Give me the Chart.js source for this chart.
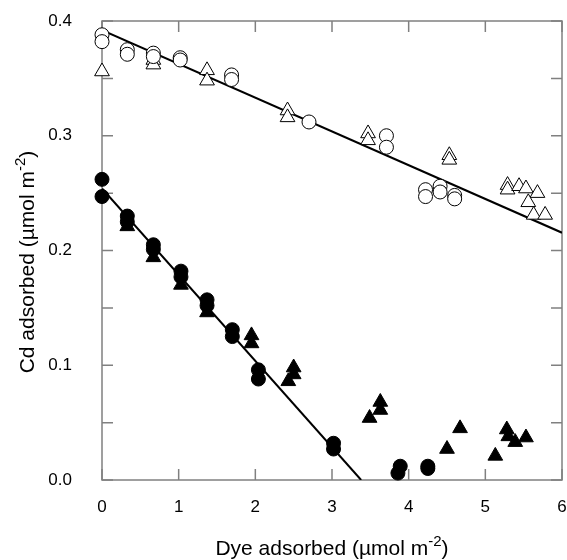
<!DOCTYPE html>
<html>
<head>
<meta charset="utf-8">
<script src="https://cdn.jsdelivr.net/npm/chart.js@4.4.1/dist/chart.umd.min.js"></script>
<style>
    html, body { margin: 0; padding: 0; background: #fff; overflow: hidden; }
    canvas { display: block; }
</style>
</head>
<body>
<canvas id="cdChart" width="567" height="560"></canvas>
<script>
// Cd adsorbed vs dye adsorbed, open symbols = one set, filled = the other
const openCircleX = [0, 0, 0.33, 0.33, 0.67, 0.67, 1.02, 1.02, 1.69, 1.69, 2.7, 3.71, 3.71, 4.22, 4.22, 4.41, 4.41, 4.6, 4.6];
const openCircleY = [0.388, 0.382, 0.375, 0.371, 0.372, 0.369, 0.368, 0.366, 0.353, 0.349, 0.312, 0.300, 0.290, 0.253, 0.247, 0.256, 0.251, 0.248, 0.245];

const openTriX = [0, 0.67, 0.67, 1.37, 1.37, 2.42, 2.42, 3.47, 3.47, 4.53, 4.53, 5.29, 5.29, 5.44, 5.53, 5.68, 5.56, 5.63, 5.78];
const openTriY = [0.356, 0.366, 0.362, 0.357, 0.348, 0.322, 0.316, 0.302, 0.296, 0.283, 0.279, 0.257, 0.253, 0.256, 0.254, 0.250, 0.242, 0.231, 0.231];

const filledCircleX = [0, 0, 0.33, 0.33, 0.67, 0.67, 1.03, 1.03, 1.37, 1.37, 1.7, 1.7, 2.04, 2.04, 3.02, 3.02, 3.89, 3.86, 4.25, 4.25];
const filledCircleY = [0.262, 0.247, 0.230, 0.225, 0.205, 0.201, 0.182, 0.177, 0.157, 0.152, 0.131, 0.125, 0.096, 0.088, 0.032, 0.027, 0.012, 0.006, 0.012, 0.010];

const filledTriX = [0.33, 0.67, 1.03, 1.37, 1.95, 1.95, 2.5, 2.5, 2.43, 3.63, 3.63, 3.49, 4.5, 4.67, 5.13, 5.28, 5.3, 5.39, 5.53];
const filledTriY = [0.221, 0.194, 0.170, 0.146, 0.126, 0.119, 0.098, 0.092, 0.086, 0.068, 0.061, 0.054, 0.027, 0.045, 0.021, 0.044, 0.038, 0.033, 0.037];

// fitted lines
const openFitX = [0, 6];
const openFitY = [0.392, 0.2155];
const filledFitX = [0, 3.38];
const filledFitY = [0.254, 0];

const xTicks = [0, 1, 2, 3, 4, 5, 6];
const yTicks = [0, 0.1, 0.2, 0.3, 0.4];
const yMinorTicks = [0.05, 0.15, 0.25, 0.35];

const xTitle = ['Dye adsorbed (µmol m', '-2', ')'];
const yTitle = ['Cd adsorbed (µmol m', '-2', ')'];

const fontFamily = "'Liberation Sans', Arial, Helvetica, sans-serif";
const tickFont = {family: fontFamily, size: 17};

const toPoints = (xs, ys) => xs.map((x, i) => ({x: x, y: ys[i]}));

const markerSet = (label, xs, ys, style, fill, radius) => ({
    type: 'scatter',
    label: label,
    data: toPoints(xs, ys),
    pointStyle: style,
    pointRadius: radius,
    pointBackgroundColor: fill,
    pointBorderColor: '#000',
    pointBorderWidth: 1,
    clip: false
});

const fitLine = (label, xs, ys) => ({
    type: 'line',
    label: label,
    data: toPoints(xs, ys),
    borderColor: '#000',
    borderWidth: 2,
    pointRadius: 0,
    fill: false,
    tension: 0
});

// box around the plot with inward tick marks on all four sides
const frameTicks = {
    id: 'frameTicks',
    beforeDatasetsDraw(chart) {
        const {ctx, chartArea: a, scales: {x, y}} = chart;
        const len = 11;
        ctx.save();
        ctx.strokeStyle = '#808080';
        ctx.lineWidth = 1.5;
        ctx.strokeRect(a.left, a.top, a.right - a.left, a.bottom - a.top);
        ctx.beginPath();
        xTicks.forEach((v) => {
            const px = x.getPixelForValue(v);
            ctx.moveTo(px, a.bottom);
            ctx.lineTo(px, a.bottom - len);
            ctx.moveTo(px, a.top);
            ctx.lineTo(px, a.top + len);
        });
        yTicks.concat(yMinorTicks).forEach((v) => {
            const py = y.getPixelForValue(v);
            ctx.moveTo(a.left, py);
            ctx.lineTo(a.left + len, py);
            ctx.moveTo(a.right, py);
            ctx.lineTo(a.right - len, py);
        });
        ctx.stroke();
        ctx.restore();
    }
};

// axis titles with a raised exponent
const drawSupTitle = (ctx, parts, cx, cy) => {
    const base = '21px ' + fontFamily;
    const sup = '15px ' + fontFamily;
    ctx.font = base;
    const w0 = ctx.measureText(parts[0]).width;
    const w2 = ctx.measureText(parts[2]).width;
    ctx.font = sup;
    const w1 = ctx.measureText(parts[1]).width;
    let xPos = cx - (w0 + w1 + w2) / 2;
    ctx.textBaseline = 'alphabetic';
    ctx.textAlign = 'left';
    ctx.font = base;
    ctx.fillText(parts[0], xPos, cy);
    xPos += w0;
    ctx.font = sup;
    ctx.fillText(parts[1], xPos, cy - 9);
    xPos += w1;
    ctx.font = base;
    ctx.fillText(parts[2], xPos, cy);
};

const axisTitles = {
    id: 'axisTitles',
    afterDraw(chart) {
        const {ctx, chartArea: a} = chart;
        ctx.save();
        ctx.fillStyle = '#000';
        drawSupTitle(ctx, xTitle, (a.left + a.right) / 2, 555);
        ctx.translate(34, 262);
        ctx.rotate(-Math.PI / 2);
        drawSupTitle(ctx, yTitle, 0, 0);
        ctx.restore();
    }
};

new Chart(document.getElementById('cdChart'), {
    data: {
        datasets: [
            markerSet('filled circles', filledCircleX, filledCircleY, 'circle', '#000', 7),
            markerSet('filled triangles', filledTriX, filledTriY, 'triangle', '#000', 8.5),
            markerSet('open circles', openCircleX, openCircleY, 'circle', '#fff', 7),
            markerSet('open triangles', openTriX, openTriY, 'triangle', '#fff', 8.5),
            fitLine('open fit', openFitX, openFitY),
            fitLine('filled fit', filledFitX, filledFitY)
        ]
    },
    options: {
        responsive: false,
        animation: false,
        layout: {autoPadding: false, padding: {top: 21, right: 5, left: 0, bottom: 0}},
        plugins: {
            legend: {display: false},
            tooltip: {enabled: false}
        },
        scales: {
            x: {
                type: 'linear',
                min: 0,
                max: 6,
                grid: {display: false},
                border: {display: false},
                afterFit: (scale) => {
                    scale.height = 80;
                    scale.paddingLeft = 0;
                    scale.paddingRight = 0;
                },
                afterBuildTicks: (scale) => { scale.ticks = xTicks.map((v) => ({value: v})); },
                ticks: {
                    color: '#000',
                    font: tickFont,
                    padding: 9,
                    maxRotation: 0,
                    callback: (v) => String(v)
                }
            },
            y: {
                type: 'linear',
                min: 0,
                max: 0.4,
                grid: {display: false},
                border: {display: false},
                afterFit: (scale) => {
                    scale.width = 102;
                    scale.paddingTop = 0;
                    scale.paddingBottom = 0;
                },
                afterBuildTicks: (scale) => { scale.ticks = yTicks.map((v) => ({value: v})); },
                ticks: {
                    color: '#000',
                    font: tickFont,
                    padding: 22,
                    callback: (v) => Number(v).toFixed(1)
                }
            }
        }
    },
    plugins: [frameTicks, axisTitles]
});
</script>
</body>
</html>
